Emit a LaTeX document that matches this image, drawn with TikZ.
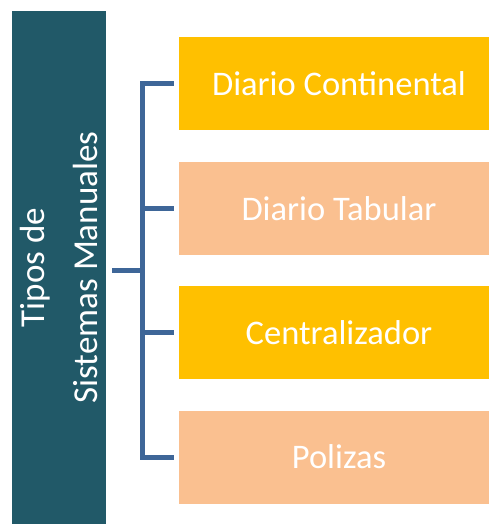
\documentclass[tikz,border=0pt]{standalone}
\usepackage{fontspec}
\setmainfont{Carlito}
\usepackage{tikz}
\usetikzlibrary{calc}
\definecolor{tealdark}{RGB}{33,89,104}
\definecolor{goldbox}{RGB}{255,192,0}
\definecolor{peachbox}{RGB}{250,192,144}
\definecolor{bracketblue}{RGB}{62,102,152}
\tikzstyle{sysbox} = [draw=none, minimum width=310bp, minimum height=93bp, inner sep=0pt, text=white, font={\fontsize{34.5bp}{40bp}\selectfont}]
\tikzstyle{goldfill} = [sysbox, fill=goldbox]
\tikzstyle{peachfill} = [sysbox, fill=peachbox]
\tikzstyle{bracket} = [draw=bracketblue, line width=5bp, line join=miter]
\tikzset{font={\small}}
\newcommand{\boxtext}[1]{\hspace*{10bp}#1}

\begin{document}
\begin{tikzpicture}[x=1bp, y=-1bp]
  \useasboundingbox (0,0) rectangle (490,524);

  % title column
  \node (title) [at={(59,267.5)}, rotate=90, fill=tealdark, text=white,
    minimum width=513bp, minimum height=94bp, inner sep=0pt, align=center,
    font={\fontsize{35bp}{53bp}\selectfont}] {Tipos de\\Sistemas Manuales};

  % boxes
  \node (box1) [at={(334,83.5)}, goldfill] {\boxtext{Diario Continental}};
  \node (box2) [at={(334,208.5)}, peachfill] {\boxtext{Diario Tabular}};
  \node (box3) [at={(334,332.5)}, goldfill] {\boxtext{Centralizador}};
  \node (box4) [at={(334,457)}, peachfill] {\boxtext{Polizas}};

  % bracket
  \coordinate (hub) at (142.5,270);
  \coordinate (stub) at (112,270);
  \draw[bracket] (stub) -- (hub);
  \draw[bracket] ([xshift=-5bp]box1.west) -| (hub);
  \draw[bracket] ([xshift=-5bp]box2.west) -| (hub);
  \draw[bracket] ([xshift=-5bp]box3.west) -| (hub);
  \draw[bracket] ([xshift=-5bp]box4.west) -| (hub);

\end{tikzpicture}
\end{document}
